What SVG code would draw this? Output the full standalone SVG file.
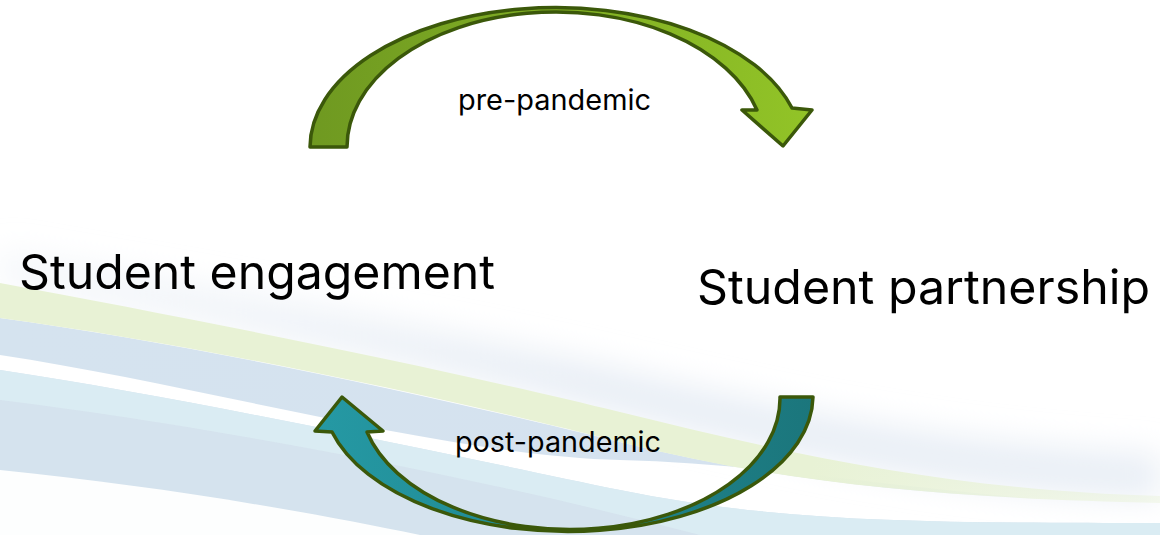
<svg xmlns="http://www.w3.org/2000/svg" width="1160" height="535" viewBox="0 0 1160 535">
  <defs>
    <style>
      .big { font-family: Inter, "Open Sans", "Liberation Sans", sans-serif; font-size: 48px; fill: #000000; }
      .lbl { font-family: Inter, "Open Sans", "Liberation Sans", sans-serif; font-size: 28px; fill: #000000; }
      .arrow { stroke: #3b580a; stroke-width: 3.5; stroke-linejoin: round; }
    </style>
    <linearGradient id="gGreen" x1="310" y1="0" x2="812" y2="0" gradientUnits="userSpaceOnUse">
      <stop offset="0" stop-color="#6f9921"/>
      <stop offset="1" stop-color="#92c427"/>
    </linearGradient>
    <linearGradient id="gTeal" x1="315" y1="0" x2="813" y2="0" gradientUnits="userSpaceOnUse">
      <stop offset="0" stop-color="#2599a4"/>
      <stop offset="1" stop-color="#1b767c"/>
    </linearGradient>
    <linearGradient id="fadeGreen" x1="0" y1="0" x2="1160" y2="0" gradientUnits="userSpaceOnUse">
      <stop offset="0" stop-color="#e8f2d5" stop-opacity="1"/>
      <stop offset="0.7" stop-color="#e8f2d5" stop-opacity="1"/>
      <stop offset="1" stop-color="#e8f2d5" stop-opacity="0.4"/>
    </linearGradient>
    <linearGradient id="fadeBlue" x1="0" y1="0" x2="1160" y2="0" gradientUnits="userSpaceOnUse">
      <stop offset="0" stop-color="#d5e3ef" stop-opacity="1"/>
      <stop offset="0.7" stop-color="#d5e2ef" stop-opacity="1"/>
      <stop offset="0.92" stop-color="#d5e2ef" stop-opacity="0"/>
    </linearGradient>
    <linearGradient id="fadeGlow" x1="0" y1="0" x2="1160" y2="0" gradientUnits="userSpaceOnUse">
      <stop offset="0" stop-color="#e6ecf4" stop-opacity="0.4"/>
      <stop offset="0.5" stop-color="#e3eaf3" stop-opacity="0.8"/>
      <stop offset="1" stop-color="#e3eaf3" stop-opacity="0.8"/>
    </linearGradient>
    <filter id="blur" x="-10%" y="-50%" width="120%" height="200%">
      <feGaussianBlur stdDeviation="16"/>
    </filter>
  </defs>

  <rect x="0" y="0" width="1160" height="535" fill="#ffffff"/>

  <!-- background waves -->
  <g id="background">
    <path d="M0,250 C200,285 450,330 620,370 S950,445 1160,455 L1160,498 C950,492 790,456 620,414 S200,322 0,285 Z" fill="url(#fadeGlow)" filter="url(#blur)"/>
    <path d="M0,370 C200,400 450,455 620,490 S950,522 1160,523 L1160,535 L0,535 Z" fill="#d5e3ee"/>
    <path d="M0,370 C200,400 450,455 620,490 S950,522 1160,523 L1160,535 L700,535 C450,470 200,425 0,400 Z" fill="#daecf3" opacity="0.9"/>
    <path d="M0,470 C150,485 300,510 420,535 L0,535 Z" fill="#fdfefe"/>
    <path d="M0,318 C200,345 450,400 620,442 S950,498 1160,503 L1160,505 C950,500 790,464 620,460 S200,385 0,355 Z" fill="url(#fadeBlue)"/>
    <path d="M0,283 C200,320 450,370 620,412 S950,490 1160,496 L1160,503 C950,498 790,485 620,442 S200,345 0,318 Z" fill="url(#fadeGreen)"/>
  </g>

  <!-- nodes -->
  <g id="node-engagement">
    <text class="big" x="19" y="289" textLength="476" lengthAdjust="spacingAndGlyphs">Student engagement</text>
  </g>
  <g id="node-partnership">
    <text class="big" x="697" y="304" textLength="453" lengthAdjust="spacingAndGlyphs">Student partnership</text>
  </g>

  <!-- connectors -->
  <g id="connectors">
    <g id="arrow-pre">
      <path class="arrow" fill="url(#gGreen)" d="M310,147 A246,140 0 0 1 792,108 L812,110 L783,146 L742,110 L757,110 A209,135 0 0 0 347,147 Z"/>
      <text class="lbl" x="458" y="110" textLength="193" lengthAdjust="spacingAndGlyphs">pre-pandemic</text>
    </g>
    <g id="arrow-post">
      <path class="arrow" fill="url(#gTeal)" d="M813,397 A245,136 0 0 1 332,432 L315,431 L342,397 L383,431 L367,432 A210,131 0 0 0 780,397 Z"/>
      <text class="lbl" x="455" y="452" textLength="206" lengthAdjust="spacingAndGlyphs">post-pandemic</text>
    </g>
  </g>
</svg>
